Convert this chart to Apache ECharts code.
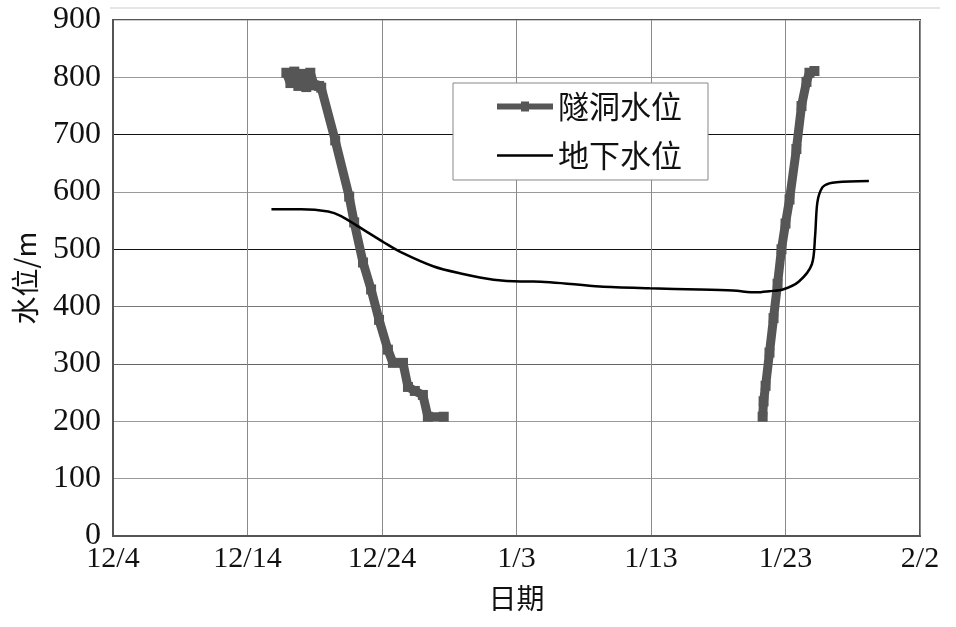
<!DOCTYPE html>
<html>
<head>
<meta charset="utf-8">
<script src="https://cdn.jsdelivr.net/npm/echarts@6/dist/echarts.min.js"></script>
<style>html,body{margin:0;padding:0;background:#fff;}#c{width:956px;height:627px;}</style>
</head>
<body>
<div id="c"></div>
<script>
// x values are days after 12/4
const xTickLabels = ['12/4', '12/14', '12/24', '1/3', '1/13', '1/23', '2/2'];
const seriesNames = ['隧洞水位', '地下水位'];

// 隧洞水位 (tunnel water level) - two segments separated by a gap (null)
const tunnelDays = [12.89, 13.19, 13.48, 13.78, 14.07, 14.37, 14.67, 14.96, 15.33, 15.48, 16.52, 17.56, 17.93, 18.59, 19.19, 19.78, 20.44, 20.81, 21.56, 21.93, 22.44, 23.04, 23.41, 24.59,
  36.0,
  48.30, 48.37, 48.52, 48.81, 49.11, 49.41, 49.70, 50.00, 50.30, 50.81, 51.19, 51.56, 51.78, 52.15];
const tunnelLevels = [808, 790, 810, 785, 806, 783, 808, 786, 785, 782, 690, 592, 547, 477, 430, 377, 325, 302, 302, 260, 253, 246, 208, 208,
  null,
  208, 235, 262, 320, 380, 440, 500, 545, 587, 675, 750, 792, 808, 811];

// 地下水位 (groundwater level)
const groundDays = [11.78, 14.0, 16.0, 16.96, 18.22, 20.15, 21.4, 23.85, 25.85, 28.3, 30.3, 31.26, 36.2, 39.9, 43.6, 46.1, 47.85, 48.8, 49.8, 51.0, 51.96, 52.2, 52.37, 52.74, 53.26, 53.8, 56.2];
const groundLevels = [570, 570, 566, 558, 540, 512, 495, 470, 458, 447, 444, 444, 435, 432, 430, 428, 425, 427, 430, 444, 474, 523, 582, 608, 615, 617, 619];

const tunnelData = tunnelDays.map((d, i) => [d, tunnelLevels[i]]);
const groundData = groundDays.map((d, i) => [d, groundLevels[i]]);

const serif = '"Liberation Serif", "Noto Sans CJK SC", serif';
const cjk = '"Noto Sans CJK SC", "Liberation Serif", sans-serif';

const chart = echarts.init(document.getElementById('c'), null, {renderer: 'canvas'});
chart.setOption({
  animation: false,
  backgroundColor: '#fff',
  graphic: [{
    type: 'line', shape: {x1: 110, y1: 8, x2: 940, y2: 8},
    style: {stroke: '#e6e6e6', lineWidth: 2}, silent: true
  }],
  grid: {left: 113, right: 36, top: 20, bottom: 91, show: true, borderColor: '#555', borderWidth: 2, backgroundColor: 'transparent'},
  legend: {
    orient: 'vertical', left: 453, top: 83,
    data: [
      {name: seriesNames[0], icon: 'path://M0,4L24,4L24,2L32,2L32,4L56,4L56,10L32,10L32,12L24,12L24,10L0,10Z'},
      {name: seriesNames[1], icon: 'path://M0,6L56,6L56,8.5L0,8.5Z'}
    ],
    itemWidth: 56, itemHeight: 14, itemGap: 18,
    padding: [8, 26, 9, 44],
    borderColor: '#888', borderWidth: 1, backgroundColor: '#fff',
    textStyle: {fontFamily: cjk, fontSize: 31, color: '#111', lineHeight: 30}
  },
  xAxis: {
    type: 'value', min: 0, max: 60, interval: 10,
    name: '日期', nameLocation: 'middle', nameGap: 48,
    nameTextStyle: {fontFamily: cjk, fontSize: 28, color: '#111'},
    axisLine: {show: true, onZero: false, lineStyle: {color: '#555', width: 2}},
    axisTick: {show: false},
    axisLabel: {
      margin: 8, fontFamily: serif, fontSize: 30, color: '#111',
      formatter: v => xTickLabels[Math.round(v / 10)]
    },
    splitLine: {show: true, lineStyle: {color: '#8a8a8a', width: 1}}
  },
  yAxis: {
    type: 'value', min: 0, max: 900, interval: 100,
    name: '水位/m', nameLocation: 'middle', nameGap: 74,
    nameTextStyle: {fontFamily: cjk, fontSize: 28, color: '#111'},
    axisLine: {show: true, lineStyle: {color: '#555', width: 2}},
    axisTick: {show: false},
    axisLabel: {margin: 12, fontFamily: serif, fontSize: 32, color: '#111'},
    splitLine: {show: true, lineStyle: {color: ['#999', '#999', '#999', '#666', '#777', '#111', '#999', '#111', '#999', '#ccc'], width: 1}}
  },
  series: [
    {
      name: seriesNames[0], type: 'line', data: tunnelData,
      connectNulls: false, showSymbol: true, symbol: 'rect', symbolSize: 10,
      lineStyle: {color: '#565656', width: 9},
      itemStyle: {color: '#565656'},
      z: 3
    },
    {
      name: seriesNames[1], type: 'line', data: groundData,
      smooth: 0.3, showSymbol: false, symbol: 'none',
      lineStyle: {color: '#000', width: 2.5},
      itemStyle: {color: '#000'},
      z: 4
    }
  ]
});
</script>
</body>
</html>
